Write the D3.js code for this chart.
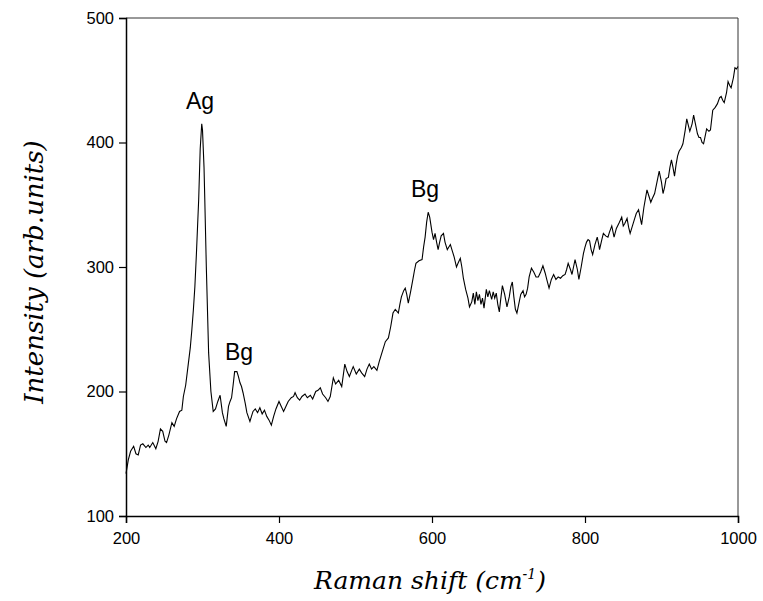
<!DOCTYPE html>
<html><head><meta charset="utf-8">
<script src="https://cdn.jsdelivr.net/npm/d3@7"></script>
<style>body{margin:0;background:#fff}svg{display:block}</style>
</head><body>
<script>
const shift = [200,203,206,210,213,216,219,222,226,229,231,235,239,242,245,248,251,253,256,260,263,266,270,273,275,278,281,284,286,288,290,292,295,297,299,300,302,303,305,308,311,314,317,320,323,326,328,331,334,336,338,340,342,345,347,349,351,353,356,358,362,364,366,369,372,375,378,381,384,387,390,393,396,400,403,406,409,412,416,419,421,424,427,430,434,437,441,444,448,451,454,457,461,464,467,471,474,478,482,486,489,492,495,497,501,505,508,512,515,518,521,524,528,531,535,539,543,546,549,552,556,558,560,563,565,567,569,572,575,577,579,583,587,589,591,593,595,597,599,600,602,604,606,608,610,612,615,617,620,622,624,627,629,632,634,637,639,641,644,647,649,652,654,656,658,660,662,664,666,668,671,673,675,678,680,682,684,686,688,690,692,695,698,701,703,705,707,709,711,714,716,719,721,723,725,727,730,733,736,739,742,745,748,750,753,756,759,762,765,768,771,774,776,778,781,783,785,787,790,792,795,798,800,802,804,806,808,810,813,816,818,819,822,824,827,830,832,835,838,841,845,848,850,852,855,857,859,862,865,867,870,872,874,877,881,884,886,888,891,894,897,900,902,904,906,909,911,913,915,917,919,921,923,926,928,931,933,935,937,940,942,944,947,949,951,953,955,957,959,962,964,967,970,973,976,978,980,982,985,987,989,991,994,996,998,1000];
const intensity = [134,145,152,156,150,149,157,158,155,157,155,159,154,160,170,168,160,159,165,175,172,178,184,185,196,205,220,235,249,265,284,310,354,395,415,410,380,354,300,231,200,184,186,192,197,183,178,172,188,192,195,205,216,216,212,207,204,199,190,183,176,180,184,186,183,187,182,185,180,177,173,180,186,192,188,184,188,192,195,196,199,195,193,196,198,195,197,194,200,201,203,198,195,192,196,211,206,209,204,222,216,212,217,220,214,218,215,212,218,222,218,220,217,224,232,240,243,252,263,266,263,270,276,281,283,278,271,280,290,297,303,305,306,316,324,336,344,340,332,328,322,327,320,314,320,325,327,320,314,316,318,312,308,300,303,307,300,291,282,275,268,272,279,270,280,273,278,270,275,267,282,276,281,274,280,275,279,270,264,275,285,278,268,276,284,288,276,266,263,272,278,281,276,278,283,292,299,296,292,292,296,301,295,290,283,290,294,290,292,291,293,294,298,303,298,294,300,306,298,290,300,311,316,320,322,321,314,310,318,324,318,314,322,327,325,324,328,333,324,331,336,340,333,335,339,332,327,333,339,343,346,340,334,348,362,356,352,355,359,368,377,368,359,364,371,372,380,386,380,373,382,389,393,396,399,410,419,414,409,415,422,416,407,404,404,400,399,405,411,409,410,426,428,431,436,437,434,432,440,449,446,444,452,460,459,461];
const xTicks = [200,400,600,800,1000];
const yTicks = [100,200,300,400,500];
const peakLabels = ["Ag","Bg","Bg"];
const peakX = [296.7,347.7,591];
const peakY = [427,225.5,356];

const W=763,H=601, L=126,R=738,T=18,B=516;
const svg=d3.select("body").append("svg").attr("width",W).attr("height",H);
const x=d3.scaleLinear().domain([200,1000]).range([L,R]);
const y=d3.scaleLinear().domain([100,500]).range([B,T]);

// frame top & right
svg.append("line").attr("x1",L).attr("x2",R).attr("y1",T).attr("y2",T).attr("stroke","#333").attr("stroke-width",1);
svg.append("line").attr("x1",R).attr("x2",R).attr("y1",T).attr("y2",B).attr("stroke","#333").attr("stroke-width",1);

// minor ticks
const xMinor=d3.range(300,1000,200), yMinor=d3.range(150,500,100);
const gx=svg.append("g").attr("transform",`translate(0,${B})`);
gx.call(d3.axisBottom(x).tickValues(xMinor).tickSize(5).tickFormat(""));
gx.call(d3.axisBottom(x).tickValues(xTicks).tickSize(7).tickPadding(9).tickFormat(d3.format("d")));
const gy=svg.append("g").attr("transform",`translate(${L},0)`);
gy.call(d3.axisLeft(y).tickValues(yMinor).tickSize(5).tickFormat(""));
gy.call(d3.axisLeft(y).tickValues(yTicks).tickSize(7).tickPadding(5).tickFormat(d3.format("d")));
svg.selectAll(".domain").attr("stroke","#000").attr("stroke-width",1.5);
svg.selectAll(".tick line").attr("stroke","#000").attr("stroke-width",1.2);
svg.selectAll(".tick text").attr("font-family","Arial, 'Liberation Sans', sans-serif").attr("font-size",16.5).attr("fill","#000");

// curve
const data=shift.map((s,i)=>[s,intensity[i]]);
svg.append("path").datum(data).attr("fill","none").attr("stroke","#000").attr("stroke-width",1.1)
  .attr("d",d3.line().x(d=>x(d[0])).y(d=>y(d[1])));

// peak labels
svg.selectAll(".pk").data(peakLabels).enter().append("text")
  .attr("x",(d,i)=>x(peakX[i])).attr("y",(d,i)=>y(peakY[i])).attr("text-anchor","middle")
  .attr("font-family","Arial, 'Liberation Sans', sans-serif").attr("font-size",23).text(d=>d);

// axis titles
const tf="'DejaVu Serif', 'Liberation Serif', serif";
svg.append("text").attr("transform",`translate(43,272) rotate(-90)`).attr("text-anchor","middle")
  .attr("font-family",tf).attr("font-style","italic").attr("font-size",26).text("Intensity (arb.units)");
const xt=svg.append("text").attr("x",430).attr("y",589).attr("text-anchor","middle")
  .attr("font-family",tf).attr("font-style","italic").attr("font-size",25);
xt.append("tspan").text("Raman shift (cm");
xt.append("tspan").attr("font-size",14).attr("dy",-10).text("-1");
xt.append("tspan").attr("dy",10).text(")");
</script>
</body></html>
